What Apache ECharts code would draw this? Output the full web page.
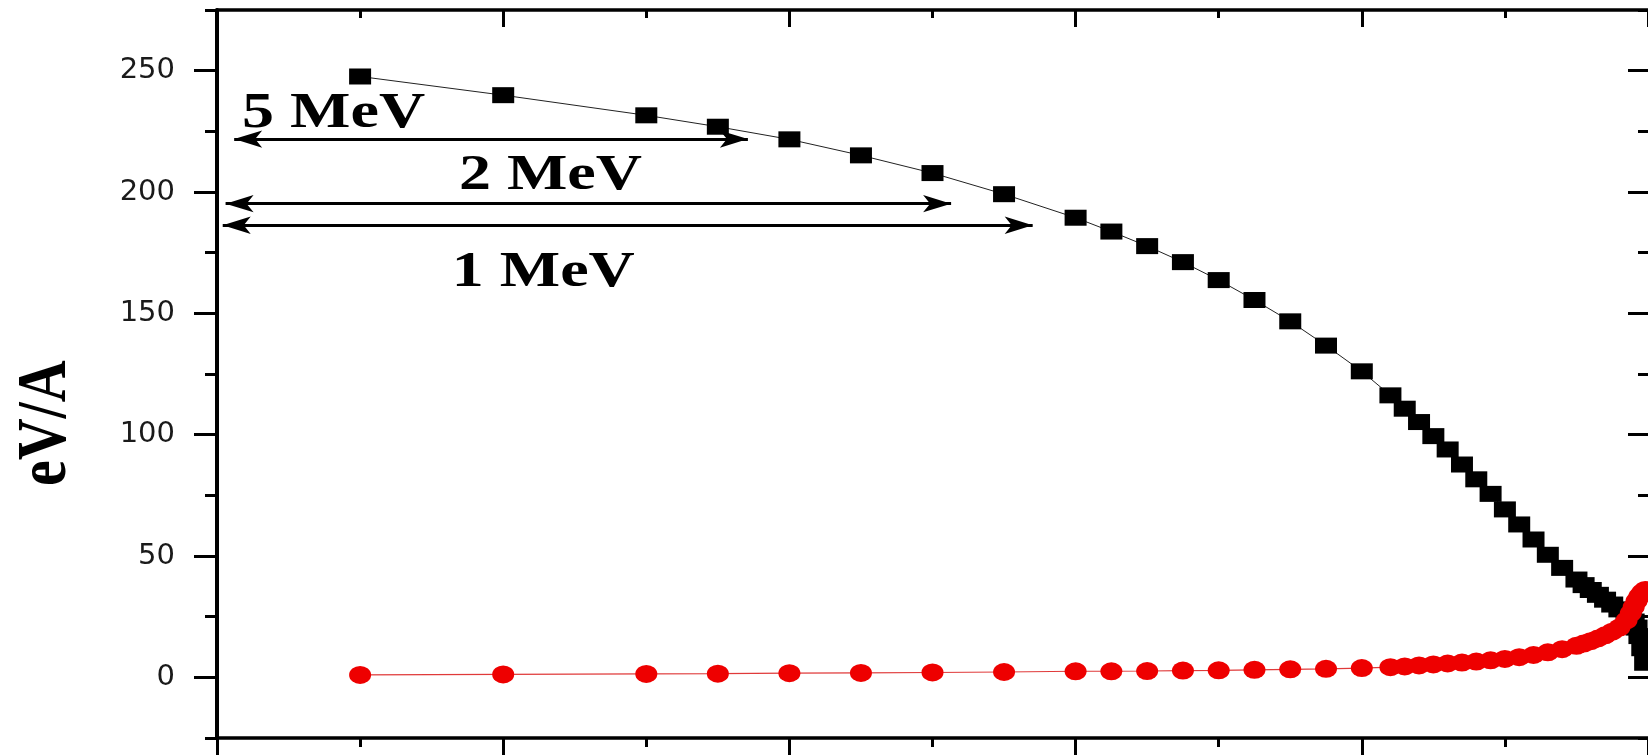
<!DOCTYPE html>
<html><head><meta charset="utf-8">
<script src="https://cdn.jsdelivr.net/npm/echarts@6/dist/echarts.min.js"></script>
<style>html,body{margin:0;padding:0;background:#fff}#c{width:1648px;height:755px}</style>
</head><body><div id="c"></div>
<script>
// ---- data ----
const xValues = [1,2,3,3.5,4,4.5,5,5.5,6,6.25,6.5,6.75,7,7.25,7.5,7.75,8,8.2,8.3,8.4,8.5,8.6,8.7,8.8,8.9,9.0,9.1,9.2,9.3,9.4,9.5,9.55,9.6,9.65,9.7,9.75,9.8,9.85,9.88,9.9,9.92,9.94,9.96,9.98];
const blackValues = [247.6,239.9,231.6,226.9,221.7,215.1,207.8,199.1,189.4,183.7,177.7,171.1,163.7,155.5,146.7,136.7,126.1,116.2,110.7,105.2,99.4,93.9,87.7,81.6,75.6,69.2,63.0,56.8,50.5,45.1,40.3,38,36,34,32,30,28,26,24.5,23,20.5,17,12,6];
const redValues = [1.0,1.2,1.4,1.5,1.7,1.8,2.0,2.2,2.5,2.5,2.6,2.8,2.9,3.1,3.3,3.5,3.8,4.2,4.5,4.9,5.3,5.7,6.1,6.5,7.0,7.6,8.3,9.2,10.3,11.6,13.0,13.9,14.9,16.0,17.3,18.8,20.5,23.5,26.5,29,31.5,33.5,35,36];
const yMajorTicks = [0,50,100,150,200,250];
const yMinorTicks = [-25,25,75,125,175,225,275];
const arrowStartX = [0.12,0.06,0.04];
const arrowEndX = [3.71,5.13,5.70];
const arrowY = [221.8,195.2,186.3];
const arrowLabels = ['5 MeV','2 MeV','1 MeV'];
const arrowLabelX = [0.815,2.33,2.28];
const arrowLabelY = [232.0,206.5,166.5];
const yTitle = 'eV/A';
const yTitlePos = [-1.19,104.7];

const chart = echarts.init(document.getElementById('c'), null, {renderer:'canvas'});
const black = '#000';
const tickStyle = {color:black, width:3};
const ellipse = 'path://M0 10 A10 10 0 1 0 20 10 A10 10 0 1 0 0 10 Z';

function yAx(pos, ticks, len, inside, labels, line){
  return {
    type:'value', min:-25, max:275, position:pos, offset:0,
    axisLine:{show:line, onZero:false, lineStyle:{color:black, width:4}},
    axisTick:{show:true, inside:inside, length:len, customValues:ticks, lineStyle:tickStyle},
    axisLabel:labels ? {show:true, customValues:ticks, margin:42, fontFamily:'DejaVu Sans', fontSize:29, color:'#1a1a1a'} : {show:false},
    splitLine:{show:false}
  };
}

const option = {
  animation:false,
  backgroundColor:'#fff',
  grid:{left:217, right:0, top:10, bottom:17, containLabel:false},
  xAxis:[
    {type:'value', min:0, max:10, interval:2, position:'bottom',
     axisLine:{onZero:false, lineStyle:{color:black, width:3.5}},
     axisTick:{length:18, lineStyle:tickStyle},
     minorTick:{show:true, splitNumber:2, length:9, lineStyle:tickStyle},
     axisLabel:{show:false}, splitLine:{show:false}},
    {type:'value', min:0, max:10, interval:2, position:'top',
     axisLine:{onZero:false, lineStyle:{color:black, width:3.5}},
     axisTick:{inside:true, length:17, lineStyle:tickStyle},
     minorTick:{show:true, splitNumber:2, length:8, lineStyle:tickStyle},
     axisLabel:{show:false}, splitLine:{show:false}}
  ],
  yAxis:[
    yAx('left', yMajorTicks, 23, false, true, true),
    yAx('left', yMinorTicks, 12, false, false, false),
    yAx('right', yMajorTicks, 20, true, false, false),
    yAx('right', yMinorTicks, 10, true, false, false)
  ],
  series:[
    {type:'line', name:'black', xAxisIndex:0, yAxisIndex:0,
     data:xValues.map((x,i)=>[x, blackValues[i]]),
     symbol:'rect', symbolSize:[22,16], showAllSymbol:true,
     itemStyle:{color:'#000'}, lineStyle:{color:'#222', width:1},
     z:2,
     markLine:{silent:true, symbol:['arrow','arrow'], symbolSize:[13,28],
       lineStyle:{color:'#000', width:3, type:'solid'}, label:{show:false},
       data:arrowY.map((y,i)=>[{coord:[arrowStartX[i], y]},{coord:[arrowEndX[i], y]}])}
    },
    {type:'line', name:'red', xAxisIndex:0, yAxisIndex:0,
     data:xValues.map((x,i)=>[x, redValues[i]]),
     symbol:ellipse, symbolSize:[22,18], showAllSymbol:true,
     itemStyle:{color:'#ee0000'}, lineStyle:{color:'#e03a3a', width:1.2},
     z:3}
  ]
};
chart.setOption(option);

const toPx = (p)=>chart.convertToPixel({xAxisIndex:0, yAxisIndex:0}, p);
const serifFamily = '"Liberation Serif", "Times New Roman", Times, serif';
const graphics = arrowLabels.map((t,i)=>{
  const p = toPx([arrowLabelX[i], arrowLabelY[i]]);
  return {type:'text', x:p[0], y:p[1], scaleX:1.28, z:10,
    style:{text:t, fontFamily:serifFamily, fontWeight:'bold', fontSize:50, fill:'#000', align:'center', verticalAlign:'middle'}};
});
const tp = toPx(yTitlePos);
graphics.push({type:'text', x:tp[0], y:tp[1], rotation:Math.PI/2, scaleY:1.2, z:10,
  style:{text:yTitle, fontFamily:serifFamily, fontWeight:'bold', fontSize:58, fill:'#000', align:'center', verticalAlign:'middle'}});
chart.setOption({graphic:graphics});
</script>
</body></html>
